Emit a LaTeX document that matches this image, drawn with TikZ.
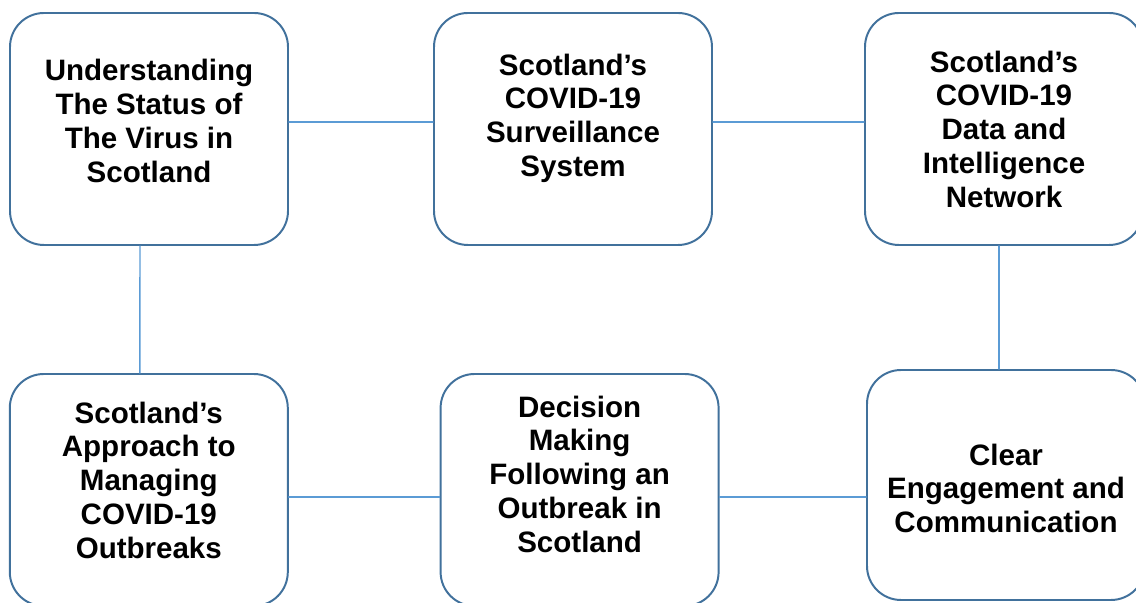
\documentclass[tikz,border=0pt]{standalone}
\usepackage{fontspec}
\setmainfont{Liberation Sans}
\definecolor{frame}{HTML}{41719C}
\definecolor{link}{HTML}{5B9BD5}

\begin{document}
\begin{tikzpicture}[x=1cm,y=1cm,line cap=round,line join=round,
    topic/.style={draw=frame,line width=1.4pt,fill=white,rounded corners=.85cm,
      minimum width=6.95cm,minimum height=5.8cm},
    words/.style={align=center,font=\fontsize{21}{24}\selectfont\bfseries},
    wire/.style={link,line width=1pt}]
  \path[use as bounding box] (0,0) rectangle (28.4,15.075);

  % Three topics on the upper row, three on the lower row;
  % the text sits a little above the box centre in most of them.
  \node[topic,label={[words,yshift=2mm]center:Understanding\\The Status of\\The Virus in\\Scotland}] (status) at (3.725,11.85) {};
  \node[topic,label={[words,yshift=2.7mm]center:Scotland’s\\COVID-19\\Surveillance\\System}] (surveil) at (14.325,11.85) {};
  \node[topic,label={[words]center:Scotland’s\\COVID-19\\Data and\\Intelligence\\Network}] (network) at (25.1,11.85) {};
  \node[topic,label={[words,yshift=2.5mm]center:Scotland’s\\Approach to\\Managing\\COVID-19\\Outbreaks}] (approach) at (3.72,2.825) {};
  \node[topic,label={[words,yshift=4mm]center:Decision\\Making\\Following an\\Outbreak in\\Scotland}] (decision) at (14.49,2.825) {};
  \node[topic,minimum height=5.75cm,label={[words,yshift=-.8mm]center:Clear\\Engagement and\\Communication}] (engage) at (25.15,2.95) {};

  % Plain links, slightly off the box centres as in the source.
  \draw[wire] ([yshift=1.75mm]status.east) -- ([yshift=1.75mm]surveil.west);
  \draw[wire] ([yshift=1.75mm]surveil.east) -- ([yshift=1.75mm]network.west);
  \draw[wire] ([xshift=-2.25mm]status.south) -- ([xshift=-2.25mm]approach.north);
  \draw[wire] ([xshift=-1.25mm]network.south) -- ([xshift=-1.25mm]network.south |- engage.north);
  \draw[wire] ([yshift=-1.75mm]approach.east) -- ([yshift=-1.75mm]decision.west);
  \draw[wire] ([yshift=-1.75mm]decision.east) -- ([yshift=-1.75mm]decision.east -| engage.west);
\end{tikzpicture}
\end{document}
